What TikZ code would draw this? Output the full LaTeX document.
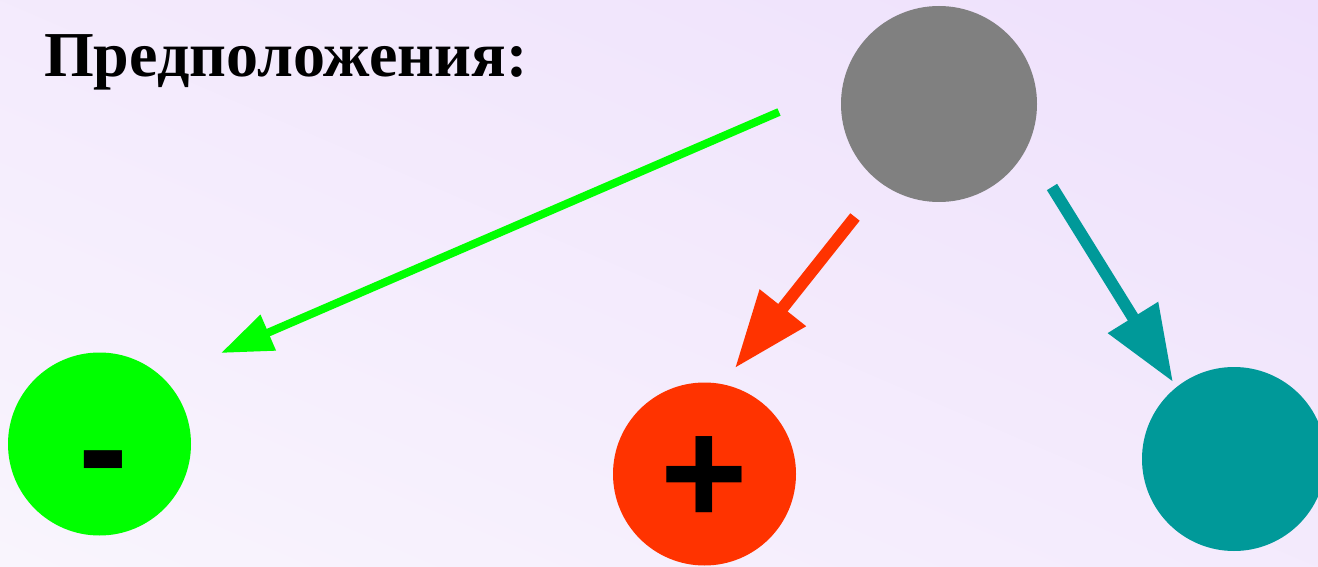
\documentclass[tikz,border=0pt]{standalone}
\usepackage{fontspec}
\setmainfont{Liberation Serif}
\newfontfamily\signfont{Liberation Sans}
\usetikzlibrary{arrows.meta,shadings}
\definecolor{bgA}{HTML}{F9F5FD}
\definecolor{bgB}{HTML}{EEE0FC}
\definecolor{cgray}{HTML}{808080}
\definecolor{cgreen}{HTML}{00FF00}
\definecolor{cred}{HTML}{FF3300}
\definecolor{cteal}{HTML}{009999}
\begin{document}
\begin{tikzpicture}[x=1pt,y=-1pt,
  ball/.style={circle,inner sep=0pt,draw=none},
  sign/.style={inner sep=0pt,font=\signfont\bfseries\fontsize{150}{150}\selectfont},
  garrow/.style={draw=cgreen,line width=8pt,-{Triangle[length=51.5pt,width=37pt]}},
  rarrow/.style={draw=cred,line width=12pt,-{Triangle[length=77pt,width=56pt]}},
  tarrow/.style={draw=cteal,line width=12pt,-{Triangle[length=76pt,width=56pt]}}]
\useasboundingbox (0,0) rectangle (1318,567);
\shade[lower left=bgA,upper right=bgB,lower right=bgA!50!bgB,upper left=bgA!50!bgB] (0,567) rectangle (1318,0);
\node[anchor=base west,inner sep=0pt,font=\bfseries\fontsize{64}{64}\selectfont] (title) at (44,77) {Предположения:};
\node[ball,fill=cgray,minimum size=196pt] (gray) at (939,104) {};
\node[ball,fill=cgreen,minimum size=183pt] (green) at (99.5,444) {};
\node[ball,fill=cred,minimum size=183pt] (red) at (704.5,474) {};
\node[ball,fill=cteal,minimum size=184pt] (teal) at (1234,459) {};
\node[sign] (minus) at (103.5,475) {-};
\node[sign] (plus) at (704.5,481) {+};
\coordinate (gs) at (779,112);
\coordinate (gt) at (221,353);
\coordinate (rs) at (855,217);
\coordinate (rt) at (735,368);
\coordinate (ts) at (1052,187);
\coordinate (tt) at (1173,382);
\draw[garrow] (gs) -- (gt);
\draw[rarrow] (rs) -- (rt);
\draw[tarrow] (ts) -- (tt);
\end{tikzpicture}
\end{document}
